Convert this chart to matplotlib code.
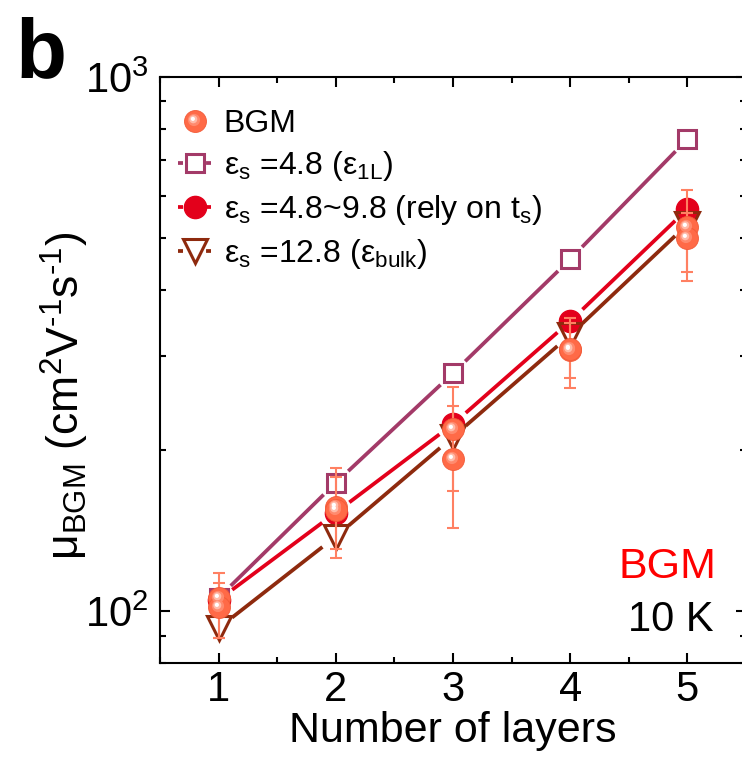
import numpy as np
import matplotlib
matplotlib.use("Agg")
import matplotlib.pyplot as plt
from matplotlib.lines import Line2D
from matplotlib.markers import MarkerStyle
from matplotlib.path import Path
from matplotlib.ticker import MultipleLocator, LogLocator, NullFormatter

plt.rcParams["font.family"] = ["Liberation Sans", "DejaVu Sans"]
plt.rcParams["mathtext.fontset"] = "custom"
plt.rcParams["mathtext.rm"] = "Liberation Sans"
plt.rcParams["mathtext.it"] = "Liberation Sans:italic"
plt.rcParams["mathtext.default"] = "regular"
plt.rcParams["lines.scale_dashes"] = False

# --- data ---
layers = [1, 2, 3, 4, 5]
mu_eps_1L = [106, 174, 279, 456, 765]     # eps_s = 4.8
mu_eps_var = [105, 153, 224, 349, 566]    # eps_s = 4.8~9.8
mu_eps_bulk = [93, 138, 212, 329, 530]    # eps_s = 12.8

bgm_x = [1, 1, 2, 2, 3, 3, 4, 4, 5, 5]
bgm_mu = [106, 102, 157, 155, 219, 193, 308, 310, 524, 499]
bgm_hi = [118, 113, 185, 178, 263, 242, 354, 346, 614, 556]
bgm_lo = [89, 89, 126, 131, 168, 143, 262, 273, 431, 415]

c_1L = "#A33A68"
c_var = "#E3001B"
c_bulk = "#8E2A0E"
c_ball = "#FF6A47"
c_err = "#FF8062"

fig = plt.figure(figsize=(7.42, 7.64), dpi=100)
ax = fig.add_axes([160 / 742, 101 / 764, 586 / 742, 586 / 764])
ax.set_yscale("log")
ax.set_xlim(0.5, 5.5)
ax.set_ylim(80, 1000)


def gapped_line(x, y, gap, **kw):
    # line segments that stop short of the markers (Origin style)
    pts = ax.transData.transform(np.column_stack([x, y]))
    inv = ax.transData.inverted()
    for p0, p1 in zip(pts[:-1], pts[1:]):
        u = (p1 - p0) / np.hypot(*(p1 - p0))
        seg = inv.transform([p0 + u * gap, p1 - u * gap])
        ax.plot(seg[:, 0], seg[:, 1], solid_capstyle="butt", **kw)


def spot(r, d):
    return MarkerStyle(Path.circle((-d, d), r)), 2 * (r + d)


# shaded ball marker: base + highlights shifted up-left
ball_layers = [(None, 15.8, c_ball), ((4.4, 1.1), None, "#FF8A6E"),
               ((2.9, 1.6), None, "#FFBBA9"), ((1.5, 1.9), None, "#FFFFFF")]


def ball_handles(x, y, z):
    hs = []
    for geo, ms, col in ball_layers:
        if geo is None:
            m = "o"
        else:
            m, ms = spot(*geo)
        h, = ax.plot(x, y, ls="none", marker=m, ms=ms, mfc=col, mec=col if geo else "#F25A38",
                     mew=0.6 if geo is None else 0, zorder=z)
        z += 0.1
        hs.append(h)
    return tuple(hs)


lw = 2.7
gapped_line(layers, mu_eps_1L, 17, color=c_1L, lw=lw, zorder=2)
gapped_line(layers, mu_eps_var, 17, color=c_var, lw=lw, zorder=2)
gapped_line(layers, mu_eps_bulk, 17, color=c_bulk, lw=lw, zorder=2)

ax.plot(layers, mu_eps_1L, ls="none", marker="s", ms=12.5, mfc="none", mec=c_1L, mew=2.2, zorder=3)
ax.plot(layers, mu_eps_var, ls="none", marker="o", ms=16, mfc=c_var, mec=c_var, mew=1, zorder=4)
ax.plot(layers, mu_eps_bulk, ls="none", marker="v", ms=17, mfc="none", mec=c_bulk, mew=2.2, zorder=5)

bgm_err = [np.subtract(bgm_mu, bgm_lo), np.subtract(bgm_hi, bgm_mu)]
ax.errorbar(bgm_x, bgm_mu, yerr=bgm_err, fmt="none", ecolor=c_err, elinewidth=1.5,
            capsize=4, capthick=1.5, zorder=6)
ball = ball_handles(bgm_x, bgm_mu, 7)

# axes styling
for s in ax.spines.values():
    s.set_linewidth(1.5)
ax.xaxis.set_major_locator(MultipleLocator(1))
ax.xaxis.set_minor_locator(MultipleLocator(0.5))
ax.yaxis.set_major_locator(LogLocator(base=10))
ax.yaxis.set_minor_locator(LogLocator(base=10, subs=np.arange(2, 10)))
ax.yaxis.set_minor_formatter(NullFormatter())
ax.tick_params(which="both", direction="in", top=True, right=True, width=1.5)
ax.tick_params(which="major", length=7.5)
ax.tick_params(which="minor", length=4.5)
ax.tick_params(axis="x", labelsize=30, pad=5)
ax.tick_params(axis="y", labelsize=30, pad=8)

ax.set_xlabel("Number of layers", fontsize=31, labelpad=1)
ax.set_ylabel("μ$_{BGM}$ (cm$^{2}$V$^{\u20101}$s$^{\u20101}$)", fontsize=32)
ax.yaxis.set_label_coords(-0.118, 0.456)

# legend
dash = (3.6, 16.6)
h1 = Line2D([], [], color=c_1L, lw=lw, dashes=dash, marker="s", ms=12.5, mfc="none", mec=c_1L, mew=2.2)
h2 = Line2D([], [], color=c_var, lw=lw, dashes=dash, marker="o", ms=16, mfc=c_var, mec=c_var)
h3 = Line2D([], [], color=c_bulk, lw=lw, dashes=dash, marker="v", ms=17, mfc="none", mec=c_bulk, mew=2.2)
labels = ["BGM",
          "ε$_{s}$ =4.8 (ε$_{1L}$)",
          "ε$_{s}$ =4.8~9.8 (rely on t$_{s}$)",
          "ε$_{s}$ =12.8 (ε$_{bulk}$)"]
ax.legend([ball, h1, h2, h3], labels, loc="upper left", bbox_to_anchor=(0.031, 0.945),
          frameon=False, fontsize=23, handlelength=1.03, handletextpad=0.4,
          borderpad=0, borderaxespad=0, labelspacing=0.31, numpoints=1)

ax.text(0.949, 0.164, "BGM", color="#FF0000", fontsize=31, ha="right", va="center",
        transform=ax.transAxes)
ax.text(0.944, 0.073, "10 K", color="black", fontsize=30, ha="right", va="center",
        transform=ax.transAxes)

fig.text(15 / 742, 687 / 764, "b", fontsize=60, fontweight="bold", ha="left", va="baseline")

fig.savefig("out.png", dpi=100, facecolor="white")
